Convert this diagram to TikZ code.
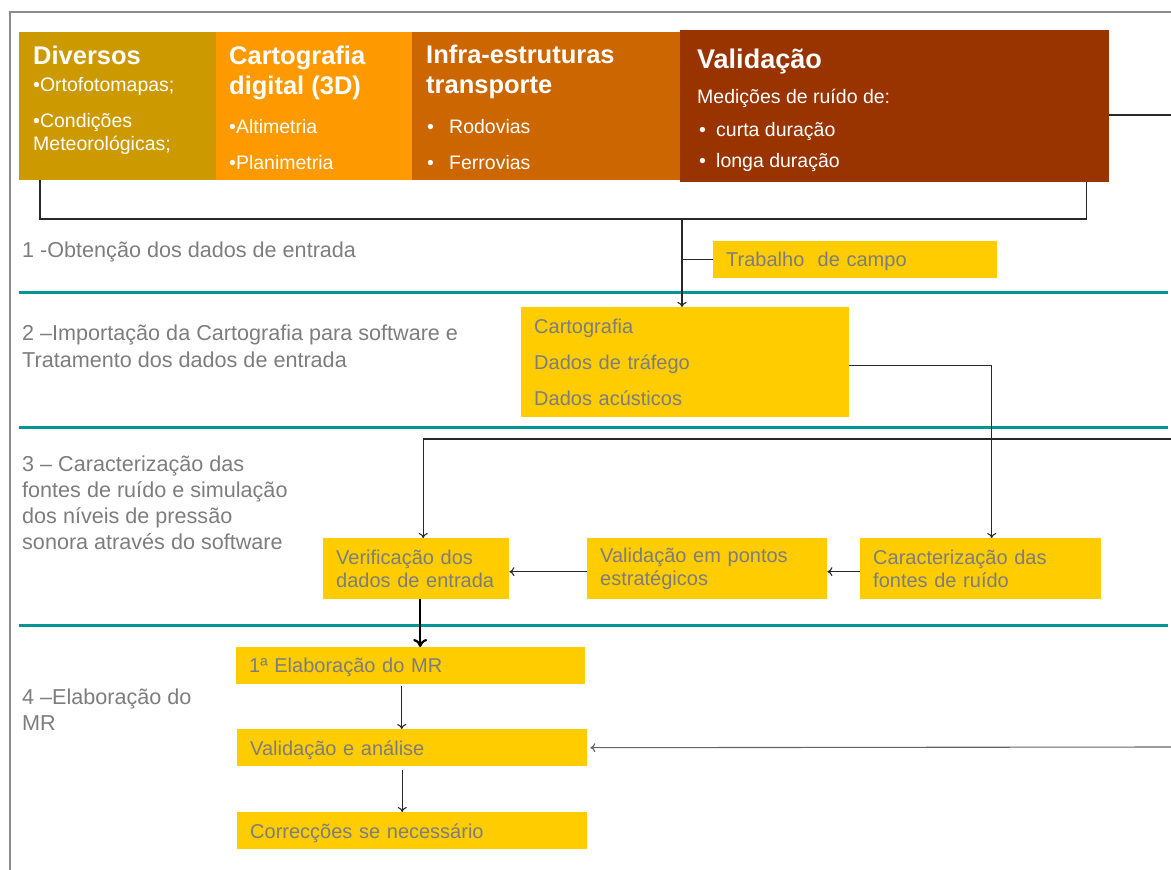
\documentclass[tikz,border=0pt]{standalone}
\usepackage{fontspec}
\setmainfont{Liberation Sans}
\usetikzlibrary{arrows.meta}

\definecolor{cDiv}{RGB}{204,153,0}
\definecolor{cCart}{RGB}{255,153,0}
\definecolor{cInfra}{RGB}{204,102,0}
\definecolor{cVal}{RGB}{153,51,0}
\definecolor{cAmarelo}{RGB}{255,204,0}
\definecolor{cTexto}{RGB}{125,125,125}
\definecolor{cTeal}{RGB}{0,150,150}
\definecolor{cMoldura}{RGB}{140,140,140}
\definecolor{cLinha}{RGB}{40,40,40}

\begin{document}
\begin{tikzpicture}[x=1pt, y=-1pt, >={To[length=5pt,width=9pt]},
    hdrbox/.style={anchor=north west, inner sep=0pt, minimum height=148pt},
    hdrtit/.style={anchor=base west, inner sep=0pt, text=white, align=left,
      font=\fontsize{25.5}{30}\selectfont\bfseries},
    hdrtxt/.style={anchor=base west, inner sep=0pt, text=white, align=left,
      font=\fontsize{19.5}{23}\selectfont},
    lbl/.style={anchor=base west, inner sep=0pt, text=cTexto, align=left,
      font=\fontsize{21.6}{26}\selectfont},
    ybox/.style={anchor=north west, fill=cAmarelo, text=cTexto, inner xsep=13pt,
      inner ysep=2pt, align=left, font=\fontsize{20}{23}\selectfont},
    ybox1/.style={ybox, text depth=0pt},
    sep/.style={cTeal, line width=3pt},
    conn/.style={cLinha, line width=1.1pt}]
    \useasboundingbox (0,0) rectangle (1171,870);

    % Moldura
    \draw[cMoldura, line width=1.5pt] (1171,12) -- (10,12) -- (10,870);

    % Cabecalho (dados de entrada)
    \node[hdrbox, fill=cDiv, minimum width=197pt] (div) at (19,32) {};
    \node[hdrbox, fill=cCart, minimum width=196pt] (cart) at (216,32) {};
    \node[hdrbox, fill=cInfra, minimum width=268pt] (infra) at (412,32) {};
    \node[hdrbox, fill=cVal, minimum width=429pt, minimum height=152pt] (val) at (680,30) {};

    \node[hdrtit] (divT) at (33,64) {Diversos};
    \node[hdrtxt] (divA) at (33,91) {•Ortofotomapas;};
    \node[hdrtxt] (divB) at (33,150) {•Condições\\Meteorológicas;};

    \node[hdrtit] (cartT) at (229,94) {Cartografia\\digital (3D)};
    \node[hdrtxt] (cartA) at (229,133) {•Altimetria};
    \node[hdrtxt] (cartB) at (229,169) {•Planimetria};

    \node[hdrtit] (infraT) at (426,93) {Infra-estruturas\\transporte};
    \node[hdrtxt] (infraA) at (427,133) {\makebox[22pt][l]{•}Rodovias};
    \node[hdrtxt] (infraB) at (427,169) {\makebox[22pt][l]{•}Ferrovias};

    \node[hdrtit, font=\fontsize{27}{30}\selectfont\bfseries] (valT) at (697,68) {Validação};
    \node[hdrtxt] (valA) at (697,103) {Medições de ruído de:};
    \node[hdrtxt] (valB) at (699,136) {\makebox[17pt][l]{•}curta duração};
    \node[hdrtxt] (valC) at (699,167) {\makebox[17pt][l]{•}longa duração};

    % Etapas
    \node[lbl] (l1) at (22,257) {1 -Obtenção dos dados de entrada};
    \node[lbl] (l2) at (22,367) {2 –Importação da Cartografia para software e\\[1pt]Tratamento dos dados de entrada};
    \node[lbl] (l3) at (22,549) {3 – Caracterização das\\fontes de ruído e simulação\\dos níveis de pressão\\sonora através do software};
    \node[lbl] (l4) at (22,730) {4 –Elaboração do\\MR};

    \draw[sep] (19,292) -- (1168,292);
    \draw[sep] (19,427) -- (1168,427);
    \draw[sep] (19,625) -- (1168,625);

    % Caixas do fluxo
    \node[ybox1, text width=258pt, minimum height=37pt] (trab) at (713,241) {Trabalho\ \ de campo};
    \node[ybox, text width=302pt, minimum height=110pt] (carto) at (521,307) {Cartografia\\[13pt]Dados de tráfego\\[13pt]Dados acústicos};
    \node[ybox, text width=160pt, minimum height=61pt] (verif) at (323,538) {Verificação dos\\dados de entrada};
    \node[ybox, text width=214pt, minimum height=61pt] (valpt) at (587,538) {Validação em pontos\\estratégicos};
    \node[ybox, text width=215pt, minimum height=61pt] (caract) at (860,538) {Caracterização das\\fontes de ruído};
    \node[ybox1, text width=323pt, minimum height=37pt] (elab) at (236,647) {1ª Elaboração do MR};
    \node[ybox1, text width=324pt, minimum height=37pt] (valan) at (237,729) {Validação e análise};
    \node[ybox1, text width=324pt, minimum height=37pt] (corr) at (237,812) {Correcções se necessário};

    % Ligacoes
    \coordinate (jun) at (682,219);
    \coordinate (eR1) at (1171,115);
    \coordinate (eR2) at (1171,439);
    \coordinate (eR3) at (1171,747);

    \draw[conn] (val.east |- eR1) -- (eR1);
    \draw[conn] ([xshift=21pt]div.south west) |- (jun) -| ([xshift=-23pt]val.south east);
    \draw[conn, ->] (jun) -- (jun |- carto.north);
    \draw[conn] (jun |- trab.west) -- (trab.west);
    \draw[conn, ->] ([yshift=-3.5pt]carto.east) -| ([xshift=11pt]caract.north);
    \draw[conn, ->] (eR2) -| ([xshift=7pt]verif.north);
    \draw[conn, ->] ([yshift=-3pt]caract.west) -- ([yshift=-3pt]valpt.east);
    \draw[conn, ->] ([yshift=-3pt]valpt.west) -- ([yshift=-3pt]verif.east);
    \draw[black, line width=2.2pt, -{To[length=8pt,width=14pt]}] ([xshift=4pt]verif.south) -- ([xshift=4pt]verif.south |- elab.north);
    \draw[conn, ->, shorten <=2pt] ([xshift=-9pt]elab.south) -- ([xshift=-9pt]elab.south |- valan.north);
    \draw[conn, ->, shorten <=4pt] ([xshift=-10pt]valan.south) -- ([xshift=-10pt]valan.south |- corr.north);
    \draw[conn, cTexto!80!black, ->, shorten >=3pt] (eR3) -- (valan.east);
\end{tikzpicture}
\end{document}
